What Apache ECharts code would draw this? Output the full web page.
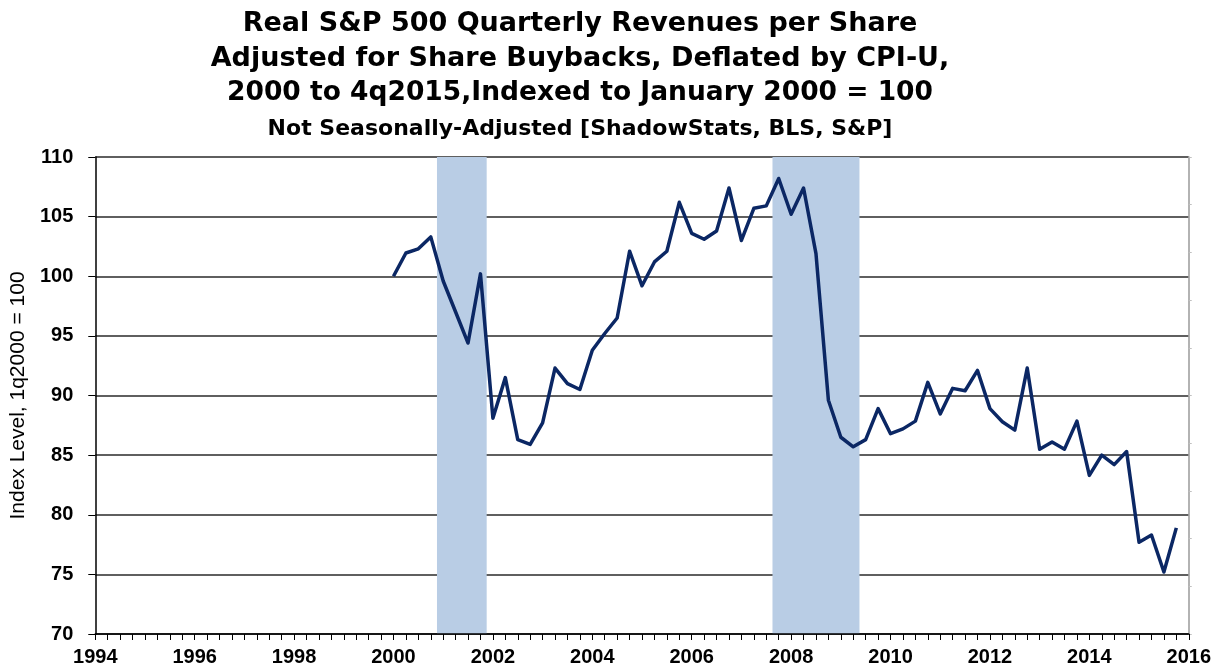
<!DOCTYPE html>
<html>
<head>
<meta charset="utf-8">
<script src="https://cdn.jsdelivr.net/npm/echarts@6/dist/echarts.min.js"></script>
<style>
  html, body { margin: 0; padding: 0; background: #fff; }
</style>
</head>
<body>
<!-- chart area, same size as the window -->
<div id="main" style="width: 1214px;height:669px;"></div>
<script type="text/javascript">
    // quarterly index, 1q2000 .. 4q2015 (1q2000 = 100)
    var firstYear = 2000;
    var indexValues = [
        100.0, 101.95, 102.3, 103.3,
        99.6, 97.0, 94.4, 100.2,
        88.1, 91.5, 86.3, 85.9,
        87.7, 92.3, 91.0, 90.5,
        93.8, 95.2, 96.5, 102.1,
        99.2, 101.2, 102.1, 106.2,
        103.6, 103.1, 103.8, 107.4,
        103.0, 105.7, 105.9, 108.2,
        105.2, 107.4, 101.9, 89.6,
        86.5, 85.7, 86.3, 88.9,
        86.8, 87.2, 87.85, 91.1,
        88.45, 90.6, 90.4, 92.1,
        88.9, 87.8, 87.1, 92.3,
        85.5, 86.1, 85.5, 87.85,
        83.3, 85.0, 84.2, 85.3,
        77.7, 78.3, 75.2, 78.9
    ];
    // recessions, first and last quarter
    var recessionStart = ['1q2001', '4q2007'];
    var recessionEnd = ['4q2001', '2q2009'];

    var titleLines = [
        'Real S&P 500 Quarterly Revenues per Share',
        'Adjusted for Share Buybacks, Deflated by CPI-U,',
        '2000 to 4q2015,Indexed to January 2000 = 100'
    ];
    var subTitle = 'Not Seasonally-Adjusted [ShadowStats, BLS, S&P]';
    var yAxisName = 'Index Level, 1q2000 = 100';

    // "3q2008" -> 2008.5
    function quarterPos(q) {
        return parseInt(q.substr(2), 10) + (parseInt(q.charAt(0), 10) - 1) / 4;
    }

    var lineData = [];
    for (var i = 0; i < indexValues.length; i++) {
        lineData.push([firstYear + i / 4, indexValues[i]]);
    }

    var shadeAreas = [];
    for (var r = 0; r < recessionStart.length; r++) {
        shadeAreas.push([
            {xAxis: quarterPos(recessionStart[r]) - 0.125},
            {xAxis: quarterPos(recessionEnd[r]) + 0.125}
        ]);
    }

    var myChart = echarts.init(document.getElementById('main'));

    var titleFont = 'DejaVu Sans, sans-serif';
    var labelFont = 'Liberation Sans, Arial, sans-serif';
    var titles = [];
    var titleTops = [5, 40, 75];
    for (var t = 0; t < titleLines.length; t++) {
        titles.push({
            text: titleLines[t],
            left: 575, top: titleTops[t], textAlign: 'center',
            textStyle: {fontFamily: titleFont, fontSize: t == 2 ? 26.5 : 27, fontWeight: 'bold', color: '#000'}
        });
    }
    titles.push({
        text: subTitle,
        left: 575, top: 113, textAlign: 'center',
        textStyle: {fontFamily: titleFont, fontSize: 22, fontWeight: 'bold', color: '#000'}
    });

    var option = {
        animation: false,
        title: titles,
        grid: {left: 94, right: 25, top: 157, bottom: 35},
        xAxis: {
            type: 'value',
            min: 1994, max: 2016, interval: 2,
            z: 10,
            axisLine: {lineStyle: {color: '#000', width: 1.5}},
            axisTick: {show: true, length: 6, lineStyle: {color: '#000', width: 1}},
            minorTick: {show: true, splitNumber: 8, length: 6, lineStyle: {color: '#000', width: 1}},
            axisLabel: {
                fontFamily: labelFont, fontSize: 20, fontWeight: 'bold', color: '#000', margin: 13,
                formatter: function (v) { return String(v); }
            },
            splitLine: {show: false}
        },
        yAxis: [
            {
                type: 'value',
                min: 70, max: 110, interval: 5,
                name: yAxisName,
                nameLocation: 'middle',
                nameGap: 62,
                nameTextStyle: {fontFamily: labelFont, fontSize: 21, color: '#000'},
                axisLine: {show: true, lineStyle: {color: '#000', width: 1.5}},
                axisTick: {show: true, length: 7, lineStyle: {color: '#000'}},
                axisLabel: {fontFamily: labelFont, fontSize: 20, fontWeight: 'bold', color: '#000', margin: 22},
                splitLine: {show: true, lineStyle: {color: '#5f5f5f', width: 2}}
            },
            {
                type: 'value',
                min: 0, max: 10, interval: 1,
                position: 'right',
                axisLine: {show: true, lineStyle: {color: '#9a9a9a', width: 1.5}},
                axisTick: {show: true, length: 3, lineStyle: {color: '#c0c0c0'}},
                axisLabel: {show: false},
                splitLine: {show: false}
            }
        ],
        series: [
            {
                name: 'recession',
                type: 'line',
                data: [],
                z: 1,
                silent: true,
                markArea: {
                    silent: true,
                    itemStyle: {color: '#b9cde5', opacity: 1},
                    data: shadeAreas
                }
            },
            {
                name: 'index',
                type: 'line',
                data: lineData,
                z: 3,
                showSymbol: false,
                lineStyle: {color: '#0b2764', width: 3.5, join: 'round'}
            }
        ]
    };

    myChart.setOption(option);
</script>
</body>
</html>
